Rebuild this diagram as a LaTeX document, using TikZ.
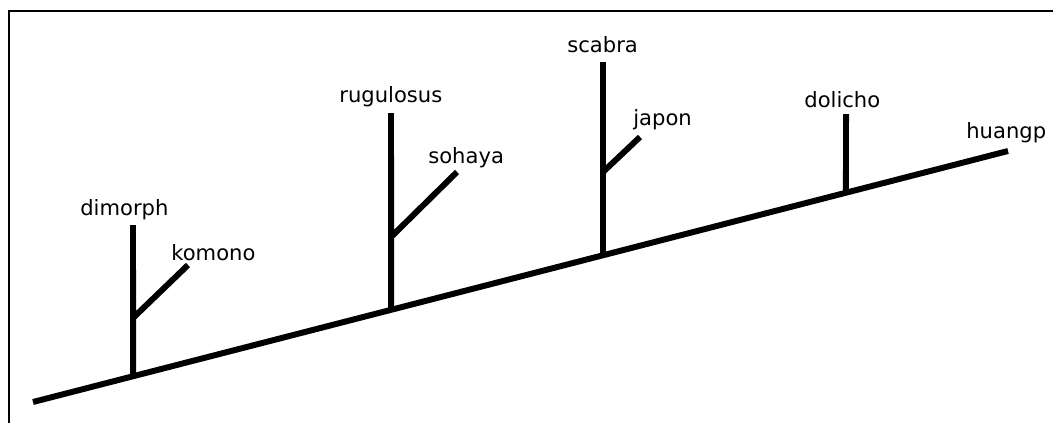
\documentclass[tikz,border=0pt]{standalone}
\usepackage{fontspec}
\setmainfont{DejaVu Sans}

\begin{document}
\begin{tikzpicture}[x=0.02cm,y=-0.02cm,
  branch/.style={line width=3.4pt},
  taxon/.style={anchor=base west,inner sep=0pt,font=\fontsize{12}{14}\selectfont}]
  \useasboundingbox(0,0)rectangle(1053,423);
  \draw[line width=1.1pt](9,423)--(9,11)--(1053,11);
  % main axis
  \coordinate(root)at(33,402);
  \coordinate(tip)at(1008,151);
  \draw[branch](root)--(tip)
    coordinate[pos=0.1026](j1)coordinate[pos=0.3672](j2)
    coordinate[pos=0.5846](j3)coordinate[pos=0.8338](j4);
  % branch ends
  \coordinate(dimorph-end)at(133,225);
  \coordinate(komono-fork)at(133,318);
  \coordinate(komono-end)at(188,265);
  \coordinate(rugulosus-end)at(391,113);
  \coordinate(sohaya-fork)at(391,237);
  \coordinate(sohaya-end)at(457,172);
  \coordinate(scabra-end)at(603,62);
  \coordinate(japon-fork)at(603,172);
  \coordinate(japon-end)at(640,137);
  \coordinate(dolicho-end)at(846,114);
  \draw[branch](j1)--(dimorph-end)(komono-fork)--(komono-end);
  \draw[branch](j2)--(rugulosus-end)(sohaya-fork)--(sohaya-end);
  \draw[branch](j3)--(scabra-end)(japon-fork)--(japon-end);
  \draw[branch](j4)--(dolicho-end);
  % labels
  \node[taxon](dimorph)at(80,215){dimorph};
  \node[taxon](komono)at(171,260){komono};
  \node[taxon](rugulosus)at(339,102){rugulosus};
  \node[taxon](sohaya)at(428,163){sohaya};
  \node[taxon](scabra)at(567,52){scabra};
  \node[taxon](japon)at(633,125){japon};
  \node[taxon](dolicho)at(804,107){dolicho};
  \node[taxon](huangp)at(966,138){huangp};
\end{tikzpicture}
\end{document}
